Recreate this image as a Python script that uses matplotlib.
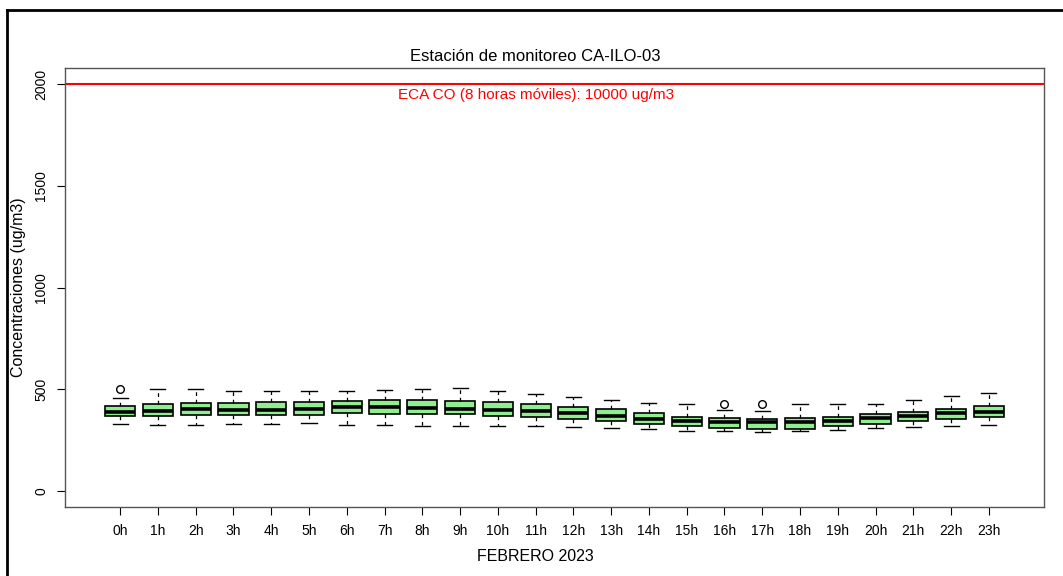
import matplotlib
matplotlib.use("Agg")
import matplotlib.pyplot as plt
from matplotlib.lines import Line2D

plt.rcParams['font.family'] = ['Liberation Sans', 'DejaVu Sans']

horas = ['%dh' % h for h in range(24)]
bigote_sup = [457, 502, 499, 491, 491, 491, 489, 494, 502, 504, 493, 475,
              461, 447, 430, 427, 397, 394, 429, 427, 425, 445, 466, 483]
q3 = [419, 427, 432, 433, 435, 435, 442, 447, 447, 442, 435, 427,
      414, 401, 384, 365, 356, 351, 356, 365, 376, 386, 404, 415]
mediana = [389, 391, 402, 399, 399, 402, 412, 412, 409, 402, 399, 391,
           384, 368, 353, 341, 340, 338, 338, 341, 356, 368, 381, 389]
q1 = [369, 369, 373, 374, 374, 374, 381, 379, 378, 378, 368, 363,
      355, 343, 330, 317, 309, 305, 305, 317, 330, 341, 353, 363]
bigote_inf = [328, 325, 325, 328, 330, 333, 323, 322, 320, 320, 318, 317,
              313, 310, 304, 296, 294, 287, 292, 300, 309, 312, 318, 325]
atipicos = {0: [499], 16: [427], 17: [429]}

eca = 2000
titulo = 'Estación de monitoreo CA-ILO-03'
texto_eca = 'ECA CO (8 horas móviles): 10000 ug/m3'

stats = []
for i in range(len(horas)):
    stats.append({
        'med': mediana[i], 'q1': q1[i], 'q3': q3[i],
        'whislo': bigote_inf[i], 'whishi': bigote_sup[i],
        'fliers': atipicos.get(i, []), 'label': horas[i],
    })

fig = plt.figure(figsize=(10.63, 5.76), dpi=100)
ax = fig.add_axes([65 / 1063, 69 / 576, 979 / 1063, 439 / 576])

ax.bxp(stats, positions=range(len(horas)), widths=0.8, patch_artist=True,
       boxprops=dict(facecolor='#90EE90', edgecolor='black', linewidth=1.2),
       medianprops=dict(color='black', linewidth=2.6),
       whiskerprops=dict(color='black', linewidth=0.9, linestyle=(0, (3, 3))),
       capprops=dict(color='black', linewidth=1.0),
       capwidths=0.4,
       flierprops=dict(marker='o', markerfacecolor='none', markeredgecolor='black',
                       markersize=5.5, markeredgewidth=1.0))

ax.axhline(eca, color='red', linewidth=1.5)
ax.text(11, eca - 20, texto_eca, color='red', ha='center', va='top', fontsize=11)

ax.set_xlim(-1.46, 24.46)
ax.set_ylim(-80, 2080)
ax.set_yticks([0, 500, 1000, 1500, 2000])
ax.set_yticklabels(['0', '500', '1000', '1500', '2000'], rotation=90, va='center')
ax.set_xticks(range(len(horas)))
ax.set_xticklabels(horas)
ax.tick_params(axis='both', direction='out', length=6, width=0.8, labelsize=10, pad=6)

for s in ax.spines.values():
    s.set_color('#555555')
    s.set_linewidth(1.0)

# el centro de los textos en R queda algo a la izquierda del centro de la caja
cx = (535 - 65) / 979
ax.set_title(titulo, fontsize=12, pad=5, x=cx)
ax.set_xlabel('FEBRERO 2023', fontsize=11.5)
ax.xaxis.set_label_coords(cx, -0.095)
ax.set_ylabel('Concentraciones (ug/m3)', fontsize=11.5, labelpad=6)

# marco exterior
fig.add_artist(Line2D([7 / 1063, 7 / 1063], [0, 1 - 10 / 576], color='black', linewidth=2,
                      transform=fig.transFigure))
fig.add_artist(Line2D([7 / 1063, 1], [1 - 10 / 576, 1 - 10 / 576], color='black', linewidth=2,
                      transform=fig.transFigure))

fig.savefig('out.png', dpi=100)
